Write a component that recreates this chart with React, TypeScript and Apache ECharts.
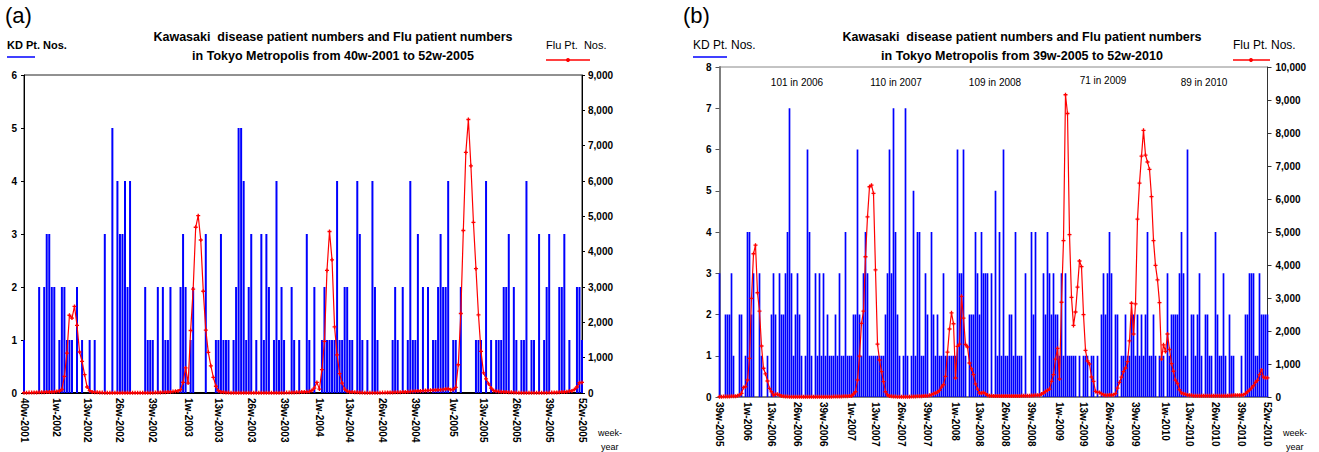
import React, { useEffect, useRef } from "react";
import * as echarts from "echarts";

// ---------- Panel (a): 40w-2001 .. 52w-2005 ----------
const YEARS_A = [2001, 2002, 2003, 2004, 2005];
const WEEKS_IN_YEAR_A = [52, 52, 52, 53, 52];
const START_WEEK_A = 40;
const END_WEEK_A = 52;

const KD_A = [
  1, 0, 0, 0, 0, 0, 2, 0, 2, 3,
  3, 2, 2, 0, 1, 2, 2, 1, 1, 1,
  0, 2, 0, 1, 0, 0, 1, 0, 1, 0,
  0, 0, 3, 0, 0, 5, 0, 4, 3, 3,
  4, 2, 4, 0, 0, 0, 0, 0, 2, 1,
  1, 1, 0, 2, 0, 2, 1, 1, 2, 0,
  0, 0, 2, 3, 2, 0, 1, 2, 0, 0,
  0, 0, 3, 0, 0, 0, 1, 1, 3, 1,
  1, 1, 0, 1, 2, 5, 5, 4, 1, 2,
  3, 0, 1, 0, 3, 1, 3, 2, 0, 1,
  4, 1, 2, 1, 0, 0, 2, 1, 0, 1,
  0, 0, 3, 1, 0, 2, 0, 0, 1, 2,
  1, 1, 1, 1, 4, 1, 1, 2, 2, 1,
  1, 0, 4, 3, 1, 0, 1, 0, 4, 2,
  1, 0, 0, 0, 0, 0, 1, 2, 1, 0,
  2, 0, 1, 4, 1, 1, 3, 0, 2, 0,
  2, 0, 1, 1, 2, 3, 2, 2, 4, 0,
  1, 1, 0, 2, 0, 0, 0, 0, 0, 1,
  1, 1, 0, 4, 0, 1, 0, 1, 1, 1,
  2, 2, 3, 0, 2, 1, 0, 1, 1, 4,
  0, 1, 1, 0, 3, 0, 1, 2, 3, 0,
  0, 0, 2, 2, 3, 0, 1, 0, 0, 2,
  2, 1,
];

const FLU_A = [
  10, 10, 12, 12, 15, 15, 18, 20, 22, 25,
  28, 30, 35, 45, 50, 100, 470, 1130, 2200, 2120,
  2450, 1915, 1160, 895, 520, 170, 66, 30, 20, 18,
  15, 12, 10, 10, 8, 8, 6, 6, 5, 5,
  5, 5, 5, 5, 5, 5, 6, 6, 8, 8,
  10, 10, 12, 15, 15, 18, 20, 25, 30, 40,
  50, 60, 95, 300, 710, 280, 1770, 2940, 4690, 5020,
  4330, 2880, 1780, 1150, 770, 440, 190, 66, 30, 20,
  15, 12, 10, 8, 8, 6, 6, 5, 5, 5,
  5, 5, 5, 5, 5, 5, 5, 5, 6, 6,
  8, 8, 10, 10, 12, 12, 15, 15, 18, 20,
  25, 30, 35, 40, 70, 140, 300, 110, 660, 1460,
  3470, 4570, 3770, 1870, 1080, 550, 280, 110, 50, 30,
  25, 20, 18, 15, 12, 10, 10, 10, 10, 10,
  10, 10, 12, 12, 15, 15, 15, 18, 20, 20,
  25, 30, 35, 40, 45, 50, 55, 60, 65, 70,
  70, 75, 80, 85, 90, 95, 100, 110, 120, 90,
  100, 160, 800, 2250, 4600, 6810, 7740, 6430, 4830, 3520,
  2210, 1180, 570, 400, 260, 140, 70, 50, 40, 35,
  30, 25, 20, 18, 15, 12, 10, 10, 10, 10,
  10, 10, 10, 10, 10, 10, 10, 10, 12, 12,
  15, 15, 20, 25, 30, 35, 50, 60, 100, 170,
  290, 300,
];

// ---------- Panel (b): 39w-2005 .. 52w-2010 ----------
const YEARS_B = [2005, 2006, 2007, 2008, 2009, 2010];
const WEEKS_IN_YEAR_B = [52, 52, 52, 52, 53, 52];
const START_WEEK_B = 39;
const END_WEEK_B = 52;

const KD_B = [
  3, 0, 0, 2, 2, 2, 3, 1, 0, 0,
  2, 2, 0, 1, 4, 4, 2, 3, 0, 0,
  3, 1, 0, 0, 1, 0, 2, 3, 2, 0,
  3, 2, 2, 3, 4, 7, 3, 1, 2, 3,
  2, 1, 0, 1, 6, 4, 1, 0, 3, 1,
  3, 1, 3, 1, 2, 1, 1, 1, 2, 1,
  3, 1, 1, 4, 1, 1, 1, 2, 2, 6,
  2, 1, 3, 4, 3, 1, 1, 1, 1, 1,
  1, 1, 1, 2, 3, 6, 3, 7, 4, 2,
  1, 0, 1, 7, 1, 0, 1, 5, 1, 4,
  4, 1, 1, 3, 2, 0, 4, 2, 1, 2,
  1, 1, 3, 1, 1, 1, 1, 1, 1, 6,
  3, 3, 6, 1, 0, 2, 2, 2, 4, 3,
  2, 4, 3, 3, 3, 0, 3, 0, 5, 1,
  4, 1, 6, 1, 1, 2, 2, 1, 4, 1,
  1, 1, 0, 3, 0, 0, 4, 2, 4, 0,
  1, 0, 3, 2, 4, 3, 2, 3, 2, 2,
  1, 3, 1, 3, 1, 1, 1, 1, 1, 0,
  1, 0, 1, 1, 1, 0, 1, 1, 0, 1,
  0, 2, 3, 2, 3, 4, 3, 0, 2, 2,
  0, 1, 1, 2, 1, 1, 2, 2, 1, 2,
  1, 2, 1, 2, 4, 1, 1, 2, 1, 0,
  1, 1, 1, 0, 3, 1, 2, 2, 2, 2,
  3, 4, 3, 1, 6, 0, 2, 2, 1, 2,
  3, 1, 0, 2, 2, 1, 1, 0, 4, 2,
  1, 1, 3, 1, 0, 2, 1, 1, 0, 0,
  0, 1, 0, 2, 2, 3, 3, 3, 1, 1,
  3, 2, 2, 2, 2,
];

const FLU_B = [
  10, 10, 12, 12, 15, 15, 20, 20, 25, 40,
  60, 110, 290, 310, 515, 1170, 2990, 4340, 4600, 3160,
  2600, 1545, 870, 700, 485, 260, 160, 60, 80, 80,
  60, 30, 20, 15, 12, 10, 10, 8, 8, 6,
  6, 5, 5, 5, 5, 5, 5, 5, 5, 5,
  5, 6, 6, 8, 8, 10, 10, 12, 12, 15,
  15, 18, 20, 20, 25, 28, 30, 90, 160, 515,
  1240, 2230, 2600, 4250, 5460, 6370, 6420, 6170, 3850, 1600,
  1120, 770, 465, 160, 60, 30, 20, 15, 12, 10,
  10, 8, 8, 8, 10, 10, 12, 15, 18, 20,
  20, 25, 30, 35, 40, 50, 70, 100, 120, 150,
  200, 300, 370, 625, 1360, 2060, 2550, 2220, 575, 1535,
  1600, 3050, 2390, 1590, 1515, 1030, 850, 680, 400, 240,
  120, 120, 140, 100, 50, 40, 35, 30, 30, 30,
  30, 30, 30, 30, 30, 30, 30, 30, 30, 30,
  30, 35, 35, 40, 40, 40, 45, 45, 50, 50,
  55, 90, 120, 170, 200, 240, 475, 680, 1150, 1475,
  545, 2870, 4740, 9160, 8590, 4920, 3020, 2170, 2575, 3330,
  4120, 3950, 2495, 1415, 1090, 1000, 605, 475, 170, 140,
  140, 100, 70, 50, 50, 60, 60, 70, 100, 270,
  445, 600, 770, 880, 1070, 1700, 2840, 1910, 2820, 5390,
  6480, 7300, 8080, 7330, 7120, 6900, 6070, 4740, 3990, 3550,
  2860, 1150, 1580, 1380, 1910, 1440, 1010, 780, 510, 410,
  220, 120, 100, 80, 60, 50, 50, 40, 40, 40,
  40, 40, 40, 40, 40, 40, 40, 40, 40, 40,
  40, 40, 40, 40, 40, 45, 45, 50, 50, 55,
  55, 60, 70, 100, 160, 210, 270, 340, 445, 505,
  680, 820, 600, 580, 580,
];

const ANNOTATIONS_B = ["101 in 2006", "110 in 2007", "109 in 2008", "71 in 2009", "89 in 2010"];
const ANNOTATION_X_B = [797, 896, 995, 1103, 1204];
const ANNOTATION_Y_B = [82, 82, 82, 80, 82];

const TITLE_A = ["Kawasaki  disease patient numbers and Flu patient numbers", "in Tokyo Metropolis from 40w-2001 to 52w-2005"];
const TITLE_B = ["Kawasaki  disease patient numbers and Flu patient numbers", "in Tokyo Metropolis from 39w-2005 to 52w-2010"];

function weekLabels(years: number[], weeksInYear: number[], startWeek: number, endWeek: number) {
  const out: string[] = [];
  years.forEach((y, k) => {
    const from = k === 0 ? startWeek : 1;
    const to = k === years.length - 1 ? endWeek : weeksInYear[k];
    for (let w = from; w <= to; w++) out.push(`${w}w-${y}`);
  });
  return out;
}

const CATS_A = weekLabels(YEARS_A, WEEKS_IN_YEAR_A, START_WEEK_A, END_WEEK_A);
const CATS_B = weekLabels(YEARS_B, WEEKS_IN_YEAR_B, START_WEEK_B, END_WEEK_B);

const FONT = "'Liberation Sans', Arial, sans-serif";
const PLUS = "path://M2,0H4V2H6V4H4V6H2V4H0V2H2Z";

function labelFilter(cats: string[]) {
  return (idx: number, val: string) =>
    idx === 0 || idx === cats.length - 1 || /^(1|13|26|39)w-/.test(val);
}

function buildOption(): any {
  const tickLabel = { fontFamily: FONT, fontWeight: "bold", fontSize: 10, color: "#000" };
  const fmt = (v: number) => v.toLocaleString("en-US");
  return {
    animation: false,
    backgroundColor: "#fff",
    grid: [
      { left: 24, top: 75, width: 558, height: 318, show: true, borderColor: "#222", borderWidth: 1, containLabel: false },
      { left: 719.5, top: 67, width: 548, height: 330, show: true, borderColor: "#888", borderWidth: 1, containLabel: false },
    ],
    xAxis: [
      {
        type: "category", gridIndex: 0, data: CATS_A, boundaryGap: false,
        axisLine: { lineStyle: { color: "#000", width: 2 } },
        axisTick: { show: false },
        axisLabel: { ...tickLabel, rotate: -90, margin: 5, interval: labelFilter(CATS_A) },
      },
      {
        type: "category", gridIndex: 1, data: CATS_B, boundaryGap: false,
        axisLine: { lineStyle: { color: "#7f7f7f", width: 2 } },
        axisTick: { show: false },
        axisLabel: { ...tickLabel, rotate: -90, margin: 5, interval: labelFilter(CATS_B) },
      },
    ],
    yAxis: [
      {
        type: "value", gridIndex: 0, min: 0, max: 6, interval: 1, position: "left",
        splitLine: { show: false },
        axisLine: { show: true, lineStyle: { color: "#000", width: 1 } },
        axisTick: { show: true, length: 3, lineStyle: { color: "#000" } },
        axisLabel: { ...tickLabel, margin: 7 },
      },
      {
        type: "value", gridIndex: 0, min: 0, max: 9000, interval: 1000, position: "right",
        splitLine: { show: false },
        axisLine: { show: true, lineStyle: { color: "#000", width: 1 } },
        axisTick: { show: true, length: 3, lineStyle: { color: "#000" } },
        axisLabel: { ...tickLabel, margin: 6, formatter: fmt },
      },
      {
        type: "value", gridIndex: 1, min: 0, max: 8, interval: 1, position: "left",
        splitLine: { show: false },
        axisLine: { show: true, lineStyle: { color: "#7f7f7f", width: 2 } },
        axisTick: { show: true, length: 4, lineStyle: { color: "#555" } },
        axisLabel: { ...tickLabel, margin: 8 },
      },
      {
        type: "value", gridIndex: 1, min: 0, max: 10000, interval: 1000, position: "right",
        splitLine: { show: false },
        axisLine: { show: true, lineStyle: { color: "#333", width: 1 } },
        axisTick: { show: true, length: 4, lineStyle: { color: "#333" } },
        axisLabel: { ...tickLabel, margin: 8, formatter: fmt },
      },
    ],
    series: [
      {
        name: "KD (a)", type: "bar", xAxisIndex: 0, yAxisIndex: 0, data: KD_A,
        itemStyle: { color: "#0000ff" }, barWidth: 2, z: 2,
      },
      {
        name: "Flu (a)", type: "line", xAxisIndex: 0, yAxisIndex: 1, data: FLU_A,
        lineStyle: { color: "#ff0000", width: 1.2 }, itemStyle: { color: "#ff0000" },
        symbol: PLUS, symbolSize: 4, showAllSymbol: true, z: 5,
      },
      {
        name: "KD (b)", type: "bar", xAxisIndex: 1, yAxisIndex: 2, data: KD_B,
        itemStyle: { color: "#0000ff" }, barWidth: 1.7, z: 2,
      },
      {
        name: "Flu (b)", type: "line", xAxisIndex: 1, yAxisIndex: 3, data: FLU_B,
        lineStyle: { color: "#ff0000", width: 1.2 }, itemStyle: { color: "#ff0000" },
        symbol: PLUS, symbolSize: 4, showAllSymbol: true, z: 5,
      },
    ],
    graphic: [
      // Panel (a)
      { type: "text", left: 5, top: 4, style: { text: "(a)", font: `22px ${FONT}`, fill: "#000" } },
      { type: "text", left: 7, top: 39, style: { text: "KD Pt. Nos.", font: `bold 11px ${FONT}`, fill: "#000" } },
      { type: "line", shape: { x1: 7, y1: 57, x2: 35, y2: 57 }, style: { stroke: "#0000ff", lineWidth: 1.5 } },
      { type: "text", x: 333, y: 37, style: { text: TITLE_A[0], font: `bold 12.5px ${FONT}`, fill: "#000", textAlign: "center", textVerticalAlign: "middle" } },
      { type: "text", x: 333, y: 56, style: { text: TITLE_A[1], font: `bold 12.5px ${FONT}`, fill: "#000", textAlign: "center", textVerticalAlign: "middle" } },
      { type: "text", x: 546, y: 45, style: { text: "Flu Pt.  Nos.", font: `11px ${FONT}`, fill: "#000", textVerticalAlign: "middle" } },
      { type: "line", shape: { x1: 546, y1: 60, x2: 590, y2: 60 }, style: { stroke: "#ff0000", lineWidth: 1.5 } },
      { type: "circle", shape: { cx: 568, cy: 60, r: 2 }, style: { fill: "#ff0000" } },
      { type: "text", x: 598, y: 433, style: { text: "week-", font: `9px ${FONT}`, fill: "#000", textVerticalAlign: "middle" } },
      { type: "text", x: 601, y: 447, style: { text: "year", font: `9px ${FONT}`, fill: "#000", textVerticalAlign: "middle" } },
      // Panel (b)
      { type: "text", left: 683, top: 4, style: { text: "(b)", font: `22px ${FONT}`, fill: "#000" } },
      { type: "text", x: 693, y: 45, style: { text: "KD Pt. Nos.", font: `12px ${FONT}`, fill: "#000", textVerticalAlign: "middle" } },
      { type: "line", shape: { x1: 693, y1: 57, x2: 727, y2: 57 }, style: { stroke: "#0000ff", lineWidth: 1.5 } },
      { type: "text", x: 1022, y: 37, style: { text: TITLE_B[0], font: `bold 12.5px ${FONT}`, fill: "#000", textAlign: "center", textVerticalAlign: "middle" } },
      { type: "text", x: 1022, y: 56, style: { text: TITLE_B[1], font: `bold 12.5px ${FONT}`, fill: "#000", textAlign: "center", textVerticalAlign: "middle" } },
      { type: "text", x: 1233, y: 45, style: { text: "Flu Pt. Nos.", font: `12px ${FONT}`, fill: "#000", textVerticalAlign: "middle" } },
      { type: "line", shape: { x1: 1233, y1: 60, x2: 1270, y2: 60 }, style: { stroke: "#ff0000", lineWidth: 1.5 } },
      { type: "circle", shape: { cx: 1251, cy: 60, r: 2 }, style: { fill: "#ff0000" } },
      { type: "text", x: 1283, y: 433, style: { text: "week-", font: `9px ${FONT}`, fill: "#000", textVerticalAlign: "middle" } },
      { type: "text", x: 1286, y: 447, style: { text: "year", font: `9px ${FONT}`, fill: "#000", textVerticalAlign: "middle" } },
      ...ANNOTATIONS_B.map((t, k) => ({
        type: "text", x: ANNOTATION_X_B[k], y: ANNOTATION_Y_B[k],
        style: { text: t, font: `10px ${FONT}`, fill: "#000", textAlign: "center", textVerticalAlign: "middle" },
      })),
    ],
  };
}

export default function App() {
  const ref = useRef<HTMLDivElement>(null);
  useEffect(() => {
    if (!ref.current) return;
    const chart = echarts.init(ref.current, null, { renderer: "svg", width: 1319, height: 452 });
    chart.setOption(buildOption());
    return () => chart.dispose();
  }, []);
  return (
    <div
      ref={ref}
      style={{ position: "absolute", left: 0, top: 0, width: 1319, height: 452, background: "#fff" }}
    />
  );
}
